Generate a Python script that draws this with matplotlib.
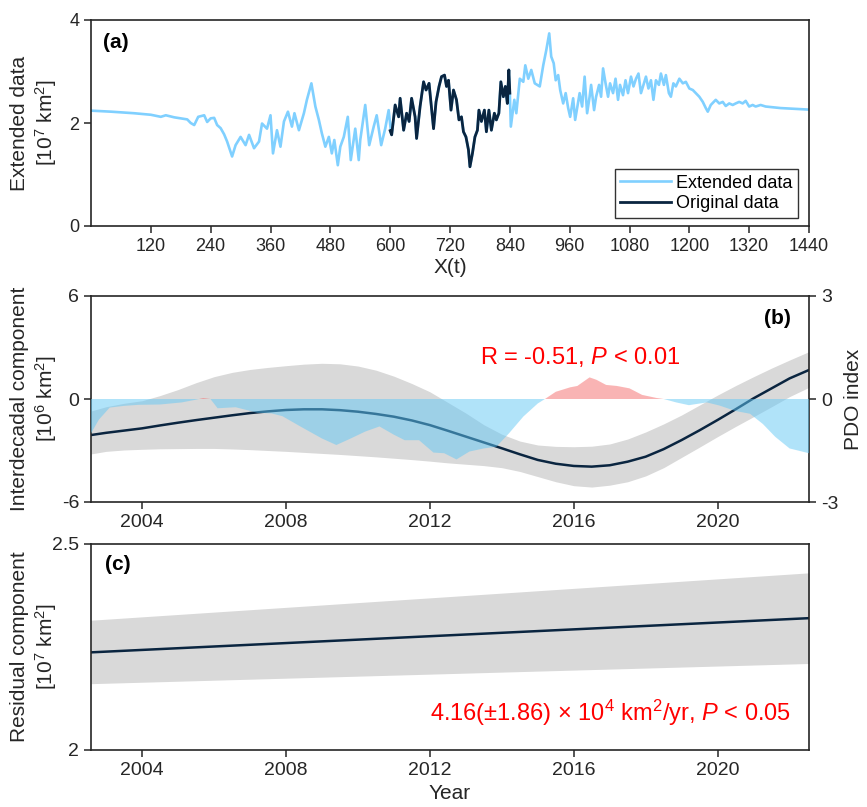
import matplotlib
matplotlib.use("Agg")
import matplotlib.pyplot as plt
import numpy as np

plt.rcParams["font.family"] = ["Liberation Sans", "DejaVu Sans"]
plt.rcParams["mathtext.fontset"] = "custom"
plt.rcParams["mathtext.rm"] = "Liberation Sans"
plt.rcParams["mathtext.it"] = "Liberation Sans:italic"
plt.rcParams["mathtext.bf"] = "Liberation Sans:bold"
plt.rcParams["axes.unicode_minus"] = False

# (a) extended series (X index, 10^7 km2)
ext_x = [0, 40, 86, 120, 140, 150, 167, 180, 193, 200, 207, 215, 227, 233, 240, 247, 253, 260, 267, 273,
         283, 290, 300, 310, 317, 327, 337, 343, 353, 360, 365, 373, 380, 387, 395, 403, 408, 417, 427, 433,
         442, 450, 457, 463, 470, 477, 483, 488, 495, 500, 507, 515, 521, 530, 537, 540, 550, 558, 567, 573,
         582, 590, 597, 602,
         603, 610, 617, 620, 627, 633, 638, 643, 650, 653, 660, 667, 672, 678, 682, 687, 692, 698, 703, 709,
         713, 717, 722, 727, 733, 738, 743, 747, 752, 757, 760, 765, 770, 775, 778, 783, 789, 793, 798, 803,
         809, 813, 818, 822, 827, 831, 835, 838, 840,
         842, 849, 853, 860, 867, 871, 877, 883, 890, 900, 907, 913, 919, 923, 928, 932, 937, 941, 947, 952,
         957, 961, 967, 971, 975, 980, 985, 990, 995, 1000, 1003, 1009, 1013, 1019, 1023, 1027, 1032, 1037,
         1041, 1047, 1052, 1057, 1061, 1067, 1072, 1077, 1083, 1088, 1093, 1098, 1103, 1108, 1113, 1118, 1123,
         1128, 1133, 1139, 1143, 1149, 1153, 1159, 1163, 1168, 1173, 1180, 1187, 1193, 1200, 1207, 1213, 1220,
         1227, 1233, 1237, 1243, 1253, 1260, 1267, 1273, 1280, 1287, 1293, 1300, 1307, 1313, 1320, 1327, 1333,
         1343, 1353, 1363, 1383, 1403, 1440]
ext_y = [2.24, 2.22, 2.19, 2.16, 2.12, 2.15, 2.11, 2.09, 2.07, 2.00, 1.96, 2.12, 2.15, 2.02, 2.09, 2.10, 1.96, 1.90, 1.78, 1.64,
         1.35, 1.57, 1.73, 1.57, 1.77, 1.51, 1.64, 1.99, 1.89, 2.15, 1.41, 1.86, 1.54, 2.03, 2.22, 1.93, 2.19, 1.86, 2.19, 2.45,
         2.77, 2.32, 2.06, 1.80, 1.54, 1.73, 1.41, 1.67, 1.18, 1.54, 1.73, 2.12, 1.28, 1.89, 1.28, 1.67, 2.35, 1.57, 1.93, 2.15,
         1.57, 1.89, 2.25, 1.80,
         1.77, 2.35, 2.12, 2.48, 1.86, 2.19, 2.03, 2.48, 2.12, 1.70, 2.32, 2.80, 2.64, 2.77, 2.38, 1.89, 2.41, 2.71, 2.90, 2.93,
         2.71, 2.83, 2.25, 2.64, 2.45, 2.06, 2.12, 1.83, 1.73, 1.48, 1.15, 1.41, 1.73, 1.86, 2.25, 2.03, 2.25, 1.83, 2.25, 1.86,
         2.19, 2.06, 2.19, 2.80, 2.51, 2.71, 2.38, 3.03, 2.58,
         1.93, 2.45, 2.19, 2.86, 2.80, 3.12, 2.86, 3.03, 2.77, 2.71, 3.12, 3.41, 3.74, 3.29, 3.16, 2.83, 2.93, 2.64, 2.38, 2.58,
         2.29, 2.12, 2.48, 2.06, 2.29, 2.58, 2.32, 2.90, 2.19, 2.51, 2.74, 2.25, 2.51, 2.74, 2.51, 3.06, 2.77, 2.51,
         2.77, 2.58, 2.86, 2.45, 2.74, 2.54, 2.83, 2.58, 2.90, 2.71, 2.86, 2.96, 2.58, 2.74, 2.90, 2.67, 2.83,
         2.45, 2.83, 2.74, 2.96, 2.74, 2.93, 2.58, 2.51, 2.77, 2.71, 2.86, 2.77, 2.80, 2.67, 2.64, 2.58, 2.51,
         2.41, 2.29, 2.22, 2.35, 2.45, 2.38, 2.41, 2.33, 2.38, 2.35, 2.38, 2.41, 2.38, 2.43, 2.32, 2.35, 2.32,
         2.35, 2.32, 2.31, 2.29, 2.28, 2.26]

# original data segment
orig_x = [600, 603, 610, 617, 620, 627, 633, 638, 643, 650, 653, 660, 667, 672, 678, 682, 687, 692, 698, 703,
          709, 713, 717, 722, 727, 733, 738, 743, 747, 752, 757, 760, 765, 770, 775, 778, 783, 789, 793, 798,
          803, 809, 813, 818, 822, 827, 831, 835, 838, 840]
orig_y = [1.85, 1.77, 2.35, 2.12, 2.48, 1.86, 2.19, 2.03, 2.48, 2.12, 1.70, 2.32, 2.80, 2.64, 2.77, 2.38, 1.89, 2.41, 2.71, 2.90,
          2.93, 2.71, 2.83, 2.25, 2.64, 2.45, 2.06, 2.12, 1.83, 1.73, 1.48, 1.15, 1.41, 1.73, 1.86, 2.25, 2.03, 2.25, 1.83, 2.25,
          1.86, 2.19, 2.06, 2.19, 2.80, 2.51, 2.71, 2.38, 3.03, 2.58]

# (b) interdecadal component (10^6 km2) with band
ic_years = [2002.58, 2003.0, 2003.5, 2004.0, 2004.5, 2005.0, 2005.5, 2006.0, 2006.5, 2007.0, 2007.5,
            2008.0, 2008.5, 2009.0, 2009.5, 2010.0, 2010.5, 2011.0, 2011.5, 2012.0, 2012.5, 2013.0,
            2013.5, 2014.0, 2014.5, 2015.0, 2015.5, 2016.0, 2016.5, 2017.0, 2017.5, 2018.0, 2018.5,
            2019.0, 2019.5, 2020.0, 2020.5, 2021.0, 2021.5, 2022.0, 2022.54]
ic_vals = [-2.10, -1.97, -1.84, -1.71, -1.54, -1.38, -1.23, -1.09, -0.95, -0.82, -0.72,
           -0.64, -0.60, -0.60, -0.65, -0.74, -0.87, -1.03, -1.25, -1.52, -1.85, -2.19,
           -2.53, -2.87, -3.22, -3.55, -3.77, -3.90, -3.94, -3.86, -3.65, -3.36, -2.92,
           -2.39, -1.82, -1.22, -0.60, 0.04, 0.62, 1.20, 1.69]
ic_upper = [-0.70, -0.45, -0.25, -0.10, 0.20, 0.55, 0.95, 1.30, 1.55, 1.72, 1.84,
            1.94, 2.03, 2.08, 2.05, 1.92, 1.68, 1.33, 0.90, 0.42, -0.20, -0.82,
            -1.50, -2.05, -2.45, -2.68, -2.76, -2.78, -2.75, -2.62, -2.33, -1.92, -1.45,
            -0.93, -0.35, 0.23, 0.78, 1.30, 1.80, 2.27, 2.76]
ic_lower = [-3.20, -3.05, -2.97, -2.93, -2.90, -2.89, -2.88, -2.88, -2.91, -2.95, -3.00,
            -3.05, -3.11, -3.17, -3.23, -3.30, -3.37, -3.45, -3.53, -3.62, -3.72, -3.80,
            -3.88, -4.00, -4.22, -4.52, -4.82, -5.05, -5.13, -5.02, -4.82, -4.48, -4.00,
            -3.40, -2.80, -2.19, -1.60, -1.03, -0.45, 0.14, 0.68]

# PDO index (smoothed)
pdo_years = [2002.58, 2002.8, 2003.1, 2003.5, 2003.9, 2004.5, 2005.1, 2005.5, 2005.7, 2005.9, 2006.1, 2006.6,
             2007.2, 2007.6, 2007.9, 2008.4, 2009.0, 2009.4, 2009.8, 2010.2, 2010.6, 2011.0, 2011.3, 2011.7,
             2012.1, 2012.4, 2012.74, 2013.1, 2013.5, 2013.85, 2014.2, 2014.6, 2015.0, 2015.2, 2015.5, 2015.9,
             2016.1, 2016.44, 2016.63, 2016.9, 2017.2, 2017.55, 2017.9, 2018.3, 2018.5, 2018.85, 2019.2, 2019.7,
             2020.05, 2020.5, 2020.9, 2021.26, 2021.6, 2022.0, 2022.54]
pdo_vals = [-1.0, -0.6, -0.25, -0.2, -0.17, -0.16, -0.1, -0.02, 0.03, 0.0, -0.27, -0.24,
            -0.4, -0.42, -0.5, -0.8, -1.15, -1.34, -1.15, -0.95, -0.8, -1.04, -1.2, -1.2,
            -1.56, -1.58, -1.76, -1.53, -1.44, -1.39, -1.0, -0.51, -0.13, 0.0, 0.21, 0.34,
            0.38, 0.63, 0.56, 0.41, 0.38, 0.31, 0.12, 0.03, 0.0, -0.1, -0.18, -0.1,
            -0.19, -0.35, -0.43, -0.73, -1.1, -1.44, -1.58]

# (c) residual component (10^7 km2)
res_years = [2002.58, 2022.54]
res_fit = [2.237, 2.320]
res_upper = [2.315, 2.430]
res_lower = [2.161, 2.210]

light = "#80D0FF"
navy = "#0A2540"
band = "#D9D9D9"
axcol = "#262626"

fig = plt.figure(figsize=(8.67, 8.07), dpi=100)
W = (809 - 91) / 867
H = 206 / 807
ax_a = fig.add_axes([91 / 867, 1 - 226 / 807, W, H])
ax_b = fig.add_axes([91 / 867, 1 - 502 / 807, W, H])
ax_c = fig.add_axes([91 / 867, 1 - 750 / 807, W, H])


def style(ax, size):
    for s in ax.spines.values():
        s.set_color(axcol)
        s.set_linewidth(1.2)
    ax.tick_params(direction="out", length=5, width=1.1, colors=axcol, labelsize=size,
                   top=False, right=False)


# ---- (a)
style(ax_a, 13)
ax_a.plot(ext_x, ext_y, color=light, lw=1.9, label="Extended data")
ax_a.plot(orig_x, orig_y, color=navy, lw=2.0, label="Original data")
ax_a.set_xlim(0, 1440)
ax_a.set_ylim(0, 4)
ax_a.set_xticks(np.arange(120, 1441, 120))
ax_a.set_yticks([0, 2, 4])
ax_a.set_xlabel("X(t)", fontsize=15, color=axcol, labelpad=2)
ax_a.set_ylabel("Extended data\n[10$^7$ km$^2$]", fontsize=15, color=axcol)
ax_a.yaxis.set_label_coords(-0.045, 0.5)
ax_a.text(0.017, 0.89, "(a)", transform=ax_a.transAxes, fontsize=15, fontweight="bold",
          color="black", va="center")
leg = ax_a.legend(loc="lower right", bbox_to_anchor=(0.985, 0.04), fontsize=13, frameon=True,
                  fancybox=False, edgecolor="black", handlelength=2.8, borderpad=0.3,
                  labelspacing=0.2, handletextpad=0.3, borderaxespad=0)
leg.get_frame().set_linewidth(1.0)

# ---- (b)
style(ax_b, 14)
ax_b.fill_between(ic_years, ic_lower, ic_upper, color=band, lw=0)
ax_b.plot(ic_years, ic_vals, color=navy, lw=1.8)
ax_b.set_xlim(2002.58, 2022.54)
ax_b.set_ylim(-6, 6)
ax_b.set_yticks([-6, 0, 6])
ax_b.set_xticks([2004, 2008, 2012, 2016, 2020])
ax_b.set_ylabel("Interdecadal component\n[10$^6$ km$^2$]", fontsize=15, color=axcol)
ax_b.yaxis.set_label_coords(-0.045, 0.5)

ax_p = ax_b.twinx()
for s in ax_p.spines.values():
    s.set_visible(False)
ax_p.tick_params(direction="out", length=5, width=1.1, colors=axcol, labelsize=14)
pdo = np.array(pdo_vals)
ax_p.fill_between(pdo_years, 0, pdo, where=pdo >= 0, interpolate=True, color="#F56B6B", alpha=0.5, lw=0)
ax_p.fill_between(pdo_years, 0, pdo, where=pdo <= 0, interpolate=True, color="#63C8F5", alpha=0.5, lw=0)
ax_p.set_ylim(-3, 3)
ax_p.set_yticks([-3, 0, 3])
ax_p.set_ylabel("PDO index", fontsize=15, color=axcol, labelpad=4)
ax_p.text(0.975, 0.89, "(b)", transform=ax_b.transAxes, fontsize=15, fontweight="bold",
          color="black", ha="right", va="center")
ax_p.text(2016.17, 1.22, "R = -0.51, $\\it{P}$ < 0.01", fontsize=17, color="red",
          ha="center", va="center")

# ---- (c)
style(ax_c, 14)
ax_c.fill_between(res_years, res_lower, res_upper, color=band, lw=0)
ax_c.plot(res_years, res_fit, color=navy, lw=1.8)
ax_c.set_xlim(2002.58, 2022.54)
ax_c.set_ylim(2, 2.5)
ax_c.set_yticks([2, 2.5])
ax_c.set_yticklabels(["2", "2.5"])
ax_c.set_xticks([2004, 2008, 2012, 2016, 2020])
ax_c.set_xlabel("Year", fontsize=15, color=axcol, labelpad=4)
ax_c.set_ylabel("Residual component\n[10$^7$ km$^2$]", fontsize=15, color=axcol)
ax_c.yaxis.set_label_coords(-0.045, 0.5)
ax_c.text(0.02, 0.90, "(c)", transform=ax_c.transAxes, fontsize=15, fontweight="bold",
          color="black", va="center")
ax_c.text(0.975, 0.18, "4.16(±1.86) × 10$^4$ km$^2$/yr, $\\it{P}$ < 0.05", transform=ax_c.transAxes,
          fontsize=17, color="red", ha="right", va="center")

fig.savefig("out.png", dpi=100)
